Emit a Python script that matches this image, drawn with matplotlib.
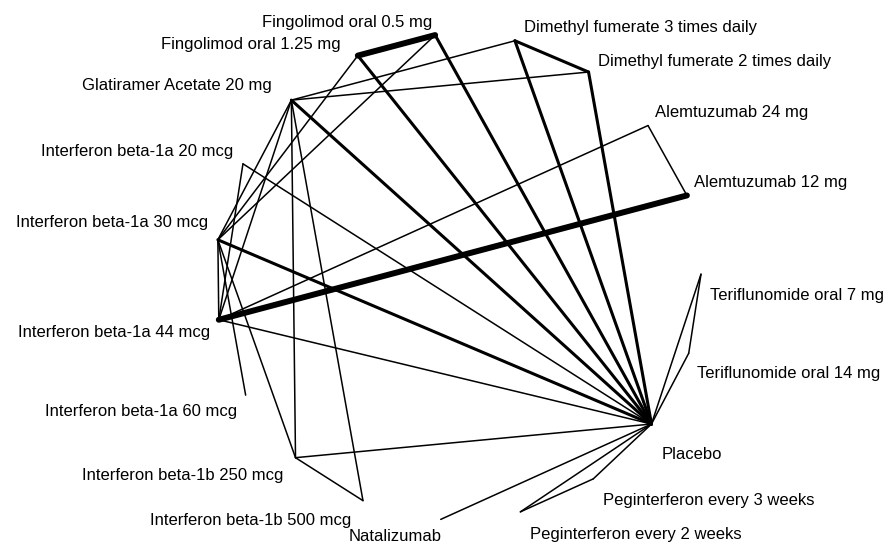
import numpy as np
import matplotlib
matplotlib.use("Agg")
import matplotlib.pyplot as plt

plt.rcParams['font.family'] = ['Liberation Sans', 'DejaVu Sans']

# Treatments, in clockwise order around the circle (starting at the top)
treatments = [
    "Fingolimod oral 0.5 mg",
    "Dimethyl fumerate 3 times daily",
    "Dimethyl fumerate 2 times daily",
    "Alemtuzumab 24 mg",
    "Alemtuzumab 12 mg",
    "Teriflunomide oral 7 mg",
    "Teriflunomide oral 14 mg",
    "Placebo",
    "Peginterferon every 3 weeks",
    "Peginterferon every 2 weeks",
    "Natalizumab",
    "Interferon beta-1b 500 mcg",
    "Interferon beta-1b 250 mcg",
    "Interferon beta-1a 60 mcg",
    "Interferon beta-1a 44 mcg",
    "Interferon beta-1a 30 mcg",
    "Interferon beta-1a 20 mcg",
    "Glatiramer Acetate 20 mg",
    "Fingolimod oral 1.25 mg",
]

# Direct comparisons: (treatment A, treatment B, weight ~ number of trials)
edge_a = ["Fingolimod oral 0.5 mg", "Fingolimod oral 0.5 mg", "Fingolimod oral 1.25 mg",
          "Fingolimod oral 0.5 mg", "Fingolimod oral 1.25 mg",
          "Dimethyl fumerate 3 times daily", "Dimethyl fumerate 3 times daily",
          "Dimethyl fumerate 2 times daily",
          "Glatiramer Acetate 20 mg", "Glatiramer Acetate 20 mg", "Glatiramer Acetate 20 mg",
          "Glatiramer Acetate 20 mg", "Glatiramer Acetate 20 mg", "Glatiramer Acetate 20 mg",
          "Glatiramer Acetate 20 mg",
          "Alemtuzumab 24 mg", "Alemtuzumab 24 mg", "Alemtuzumab 12 mg",
          "Interferon beta-1a 20 mcg", "Interferon beta-1a 20 mcg",
          "Interferon beta-1a 30 mcg", "Interferon beta-1a 30 mcg", "Interferon beta-1a 30 mcg",
          "Interferon beta-1a 30 mcg", "Interferon beta-1a 44 mcg",
          "Interferon beta-1b 250 mcg", "Interferon beta-1b 250 mcg",
          "Natalizumab",
          "Peginterferon every 2 weeks", "Peginterferon every 2 weeks", "Peginterferon every 3 weeks",
          "Teriflunomide oral 7 mg", "Teriflunomide oral 7 mg", "Teriflunomide oral 14 mg"]
edge_b = ["Fingolimod oral 1.25 mg", "Placebo", "Placebo",
          "Interferon beta-1a 30 mcg", "Interferon beta-1a 30 mcg",
          "Dimethyl fumerate 2 times daily", "Placebo",
          "Placebo",
          "Dimethyl fumerate 3 times daily", "Dimethyl fumerate 2 times daily", "Placebo",
          "Interferon beta-1a 30 mcg", "Interferon beta-1a 44 mcg", "Interferon beta-1b 250 mcg",
          "Interferon beta-1b 500 mcg",
          "Alemtuzumab 12 mg", "Interferon beta-1a 44 mcg", "Interferon beta-1a 44 mcg",
          "Interferon beta-1a 44 mcg", "Placebo",
          "Interferon beta-1a 44 mcg", "Interferon beta-1a 60 mcg", "Placebo",
          "Interferon beta-1b 250 mcg", "Placebo",
          "Interferon beta-1b 500 mcg", "Placebo",
          "Placebo",
          "Peginterferon every 3 weeks", "Placebo", "Placebo",
          "Teriflunomide oral 14 mg", "Placebo", "Placebo"]
edge_w = [3, 2, 2,
          1, 1,
          2, 2,
          2,
          1, 1, 2,
          1, 1, 1,
          1,
          1, 1, 3,
          1, 1,
          1, 1, 2,
          1, 1,
          1, 1,
          1,
          1, 1, 1,
          1, 1, 1]

# Label offsets from node (pixels, x right / y up) and horizontal alignment
label_dx = [-3, 9, 9, 7, 7, 9, 8, 10, 10, 10, 1, -12, -12, -9, -9, -10, -10, -20, -17]
label_dy = [13, 13, 11, 13, 13, -21, -20, -30, -22, -23, -17, -20, -18, -16, -13, 17, 12, 15, 11]
label_ha = ["right", "left", "left", "left", "left", "left", "left", "left", "left", "left",
            "right", "right", "right", "right", "right", "right", "right", "right", "right"]

W, H = 887, 548
cx, cy, R = 458.0, 277.0, 243.0
fig = plt.figure(figsize=(W / 100, H / 100), dpi=100)
ax = fig.add_axes([0, 0, 1, 1])
ax.set_xlim(-cx / R, (W - cx) / R)
ax.set_ylim(-(H - cy) / R, cy / R)
ax.set_aspect('equal')
ax.axis('off')

n = len(treatments)
start = np.deg2rad(-5.4)
theta = start + 2 * np.pi * np.arange(n) / n
px = np.sin(theta)
py = np.cos(theta)
pos = {t: (px[i], py[i]) for i, t in enumerate(treatments)}

lw_map = {1: 1.1, 2: 2.2, 3: 4.3}
for a, b, w in zip(edge_a, edge_b, edge_w):
    xa, ya = pos[a]
    xb, yb = pos[b]
    ax.plot([xa, xb], [ya, yb], color='black', lw=lw_map[w], solid_capstyle='round', zorder=2)

for i, t in enumerate(treatments):
    ax.annotate(t, xy=pos[t], xytext=(label_dx[i], label_dy[i]), textcoords='offset pixels',
                ha=label_ha[i], va='center', fontsize=12, color='black')

fig.savefig("out.png", dpi=100, facecolor='white')
